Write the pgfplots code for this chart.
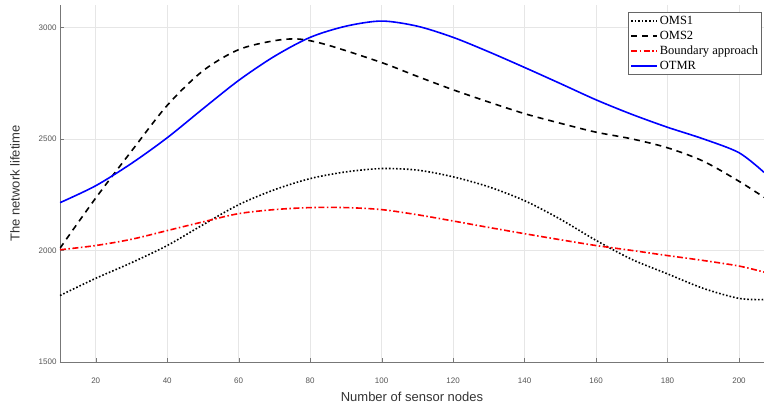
\documentclass[border=0pt]{standalone}
\usepackage{fontspec}
\setmainfont{Liberation Sans}
\newfontfamily\tnr{Liberation Serif}
\usepackage{pgfplots}
\pgfplotsset{compat=1.18}
\definecolor{TickGray}{HTML}{555555}
\definecolor{AxisGray}{HTML}{777777}
\definecolor{GridGray}{HTML}{E6E6E6}

\begin{document}
\begin{tikzpicture}
\begin{axis}[
    scale only axis,
    width=704pt, height=357pt,
    xmin=10, xmax=207,
    ymin=1500, ymax=3100,
    xtick={20,40,...,200},
    ytick={1500,2000,2500,3000},
    axis lines=left,
    axis line style={-, AxisGray},
    tick align=inside,
    major tick length=4pt,
    tick style={AxisGray},
    grid=major,
    grid style={GridGray, line width=0.6pt},
    ticklabel style={font=\fontsize{8}{9}\selectfont, TickGray},
    xticklabel style={yshift=-12pt},
    /pgf/number format/assume math mode=true,
    /pgf/number format/1000 sep={},
    xlabel={Number of sensor nodes},
    ylabel={The network lifetime},
    label style={font=\fontsize{13}{15}\selectfont, TickGray!60!black},
    xlabel style={yshift=-2pt},
    ylabel style={yshift=12pt},
    legend style={
        at={(0.997,0.98)}, anchor=north east,
        font=\tnr\fontsize{12.5}{13}\selectfont,
        draw=gray!80!black, line width=0.6pt,
        inner sep=1.5pt, row sep=1.2pt,
        legend cell align=left,
    },
    legend image code/.code={\draw[#1] (0pt,0pt) -- (26pt,0pt);},
    every axis plot/.append style={line width=1.6pt},
]
% OMS1
\addplot[black, dotted, smooth, tension=0.5] coordinates {
    (10,1798) (20,1875) (30,1945) (40,2022) (50,2115) (60,2205) (70,2272)
    (80,2322) (90,2352) (100,2367) (110,2360) (120,2330) (130,2285) (140,2223)
    (150,2140) (160,2045) (170,1960) (180,1895) (190,1830) (200,1785) (207,1780)
};
% OMS2
\addplot[black, dash pattern=on 6pt off 5pt, smooth, tension=0.5] coordinates {
    (10,2010) (20,2235) (30,2445) (40,2650) (50,2805) (60,2900) (70,2940)
    (77,2947) (85,2920) (100,2842) (110,2780) (120,2720) (130,2665) (140,2613)
    (150,2570) (160,2530) (170,2500) (180,2460) (190,2400) (200,2310) (207,2238)
};
% Boundary approach
\addplot[red, dash pattern=on 6pt off 2.5pt on 1.5pt off 2.5pt, smooth, tension=0.5] coordinates {
    (10,2003) (20,2022) (30,2050) (40,2089) (50,2128) (60,2165) (70,2183)
    (80,2192) (90,2192) (100,2183) (110,2160) (120,2132) (130,2103) (140,2075)
    (150,2048) (160,2022) (170,2000) (180,1977) (190,1955) (200,1930) (207,1903)
};
% OTMR
\addplot[blue, solid, smooth, tension=0.5] coordinates {
    (10,2214) (20,2290) (30,2390) (40,2505) (50,2635) (60,2762) (70,2870)
    (80,2955) (90,3005) (100,3028) (110,3005) (120,2955) (130,2890) (140,2820)
    (150,2748) (160,2675) (170,2610) (180,2552) (190,2500) (200,2438) (207,2350)
};
\legend{OMS1, OMS2, Boundary approach, OTMR}
\end{axis}
\pgfresetboundingbox
\path ([shift={(-60pt,-44pt)}]current axis.south west) rectangle ([shift={(0pt,5pt)}]current axis.north east);
\end{tikzpicture}
\end{document}
